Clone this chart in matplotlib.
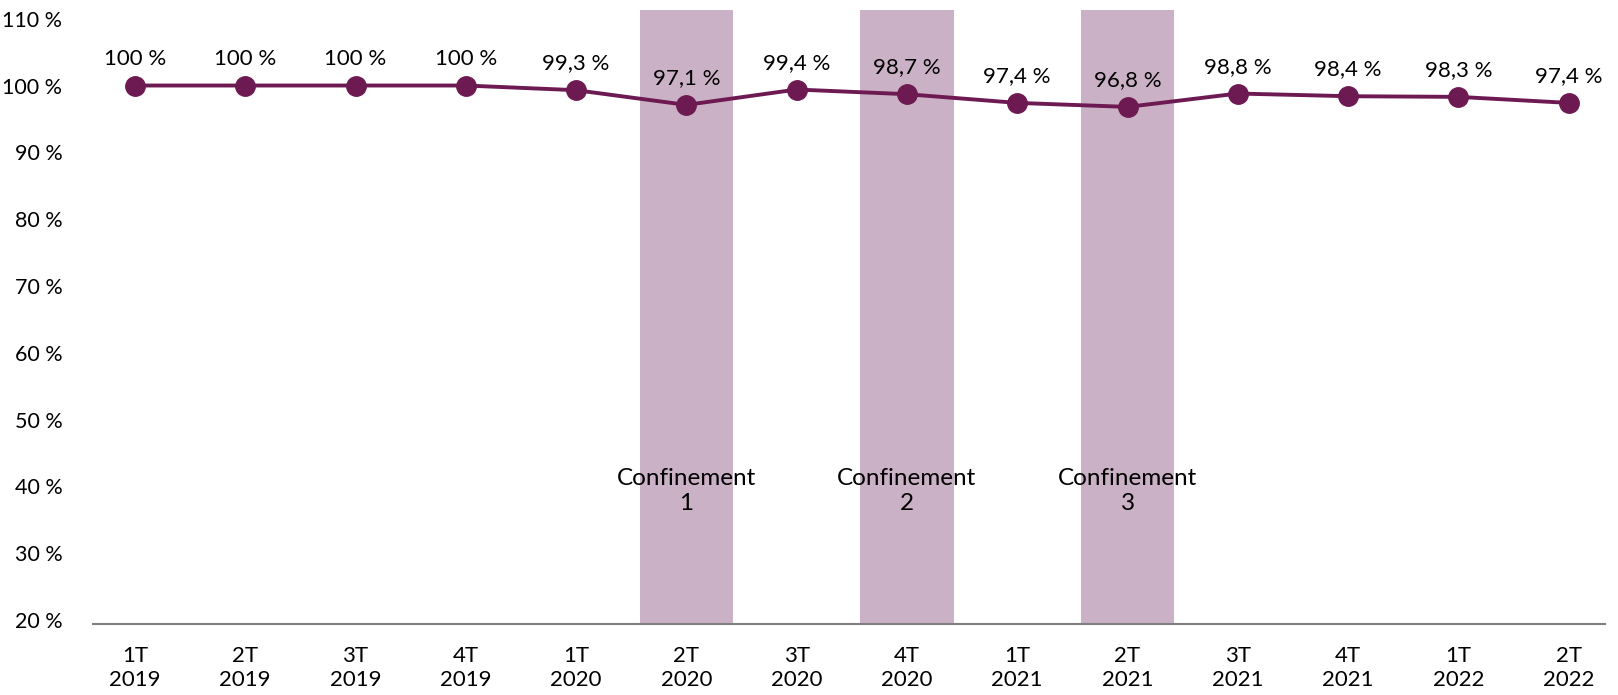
import matplotlib
matplotlib.use("Agg")
import matplotlib.pyplot as plt

plt.rcParams['font.family'] = ['Lato', 'DejaVu Sans']

# Quarterly index, base 100 = 1T 2019
quarters = ["1T\n2019", "2T\n2019", "3T\n2019", "4T\n2019",
            "1T\n2020", "2T\n2020", "3T\n2020", "4T\n2020",
            "1T\n2021", "2T\n2021", "3T\n2021", "4T\n2021",
            "1T\n2022", "2T\n2022"]
values = [100, 100, 100, 100, 99.3, 97.1, 99.4, 98.7,
          97.4, 96.8, 98.8, 98.4, 98.3, 97.4]
lockdown_idx = [5, 7, 9]
lockdown_labels = ["Confinement\n1", "Confinement\n2", "Confinement\n3"]
y_ticks = [20, 30, 40, 50, 60, 70, 80, 90, 100, 110]

line_color = "#6E1A52"
shade_color = "#CBB1C5"

fig = plt.figure(figsize=(16.18, 6.95), dpi=100)
ax = fig.add_axes([0.0575, 0.102, 0.9345, 0.8836])

x = list(range(len(quarters)))

# shaded lockdown periods
for i, lab in zip(lockdown_idx, lockdown_labels):
    ax.axvspan(i - 0.425, i + 0.425, color=shade_color, lw=0, zorder=1)
    ax.text(i, 39.3, lab, ha="center", va="center", fontsize=17.5,
            linespacing=1.2, zorder=3)

ax.plot(x, values, color=line_color, lw=2.8, marker="o", markersize=14,
        zorder=4)

def fmt(v):
    s = f"{v:g}".replace(".", ",")
    return f"{s} %"

for xi, v in zip(x, values):
    ax.annotate(fmt(v), (xi, v), xytext=(0, 12), textcoords="offset points",
                ha="center", va="bottom", fontsize=16, zorder=5)

ax.set_xlim(-0.38, 13.33)
ax.set_ylim(19.4, 111.3)
ax.set_xticks(x)
ax.set_xticklabels(quarters, fontsize=16, linespacing=1.25)
ax.set_yticks(y_ticks)
ax.set_yticklabels([f"{t} %" for t in y_ticks], fontsize=15.5)
ax.tick_params(axis="both", length=0)
ax.tick_params(axis="y", pad=22)
ax.tick_params(axis="x", pad=16)

for side in ["top", "right", "left"]:
    ax.spines[side].set_visible(False)
ax.spines["bottom"].set_color("#808080")
ax.spines["bottom"].set_linewidth(1.5)

fig.savefig("out.png", dpi=100)
